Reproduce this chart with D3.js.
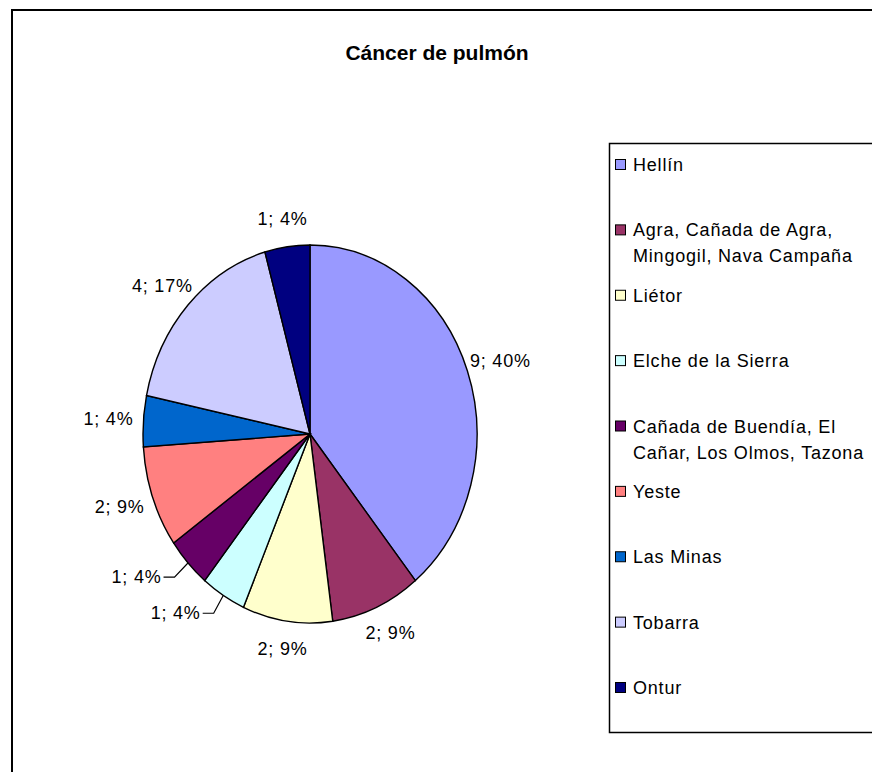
<!DOCTYPE html>
<html lang="es">
<head>
    <meta charset="UTF-8">
    <title>Cáncer de pulmón</title>
    <style>
        body { margin: 0; background: #fff; }
        svg text { font-family: "Liberation Sans", Arial, sans-serif; fill: #000; }
        .lbl { font-size: 18px; letter-spacing: 0.8px; }
    </style>
    <script src="https://cdnjs.cloudflare.com/ajax/libs/d3/7.8.5/d3.min.js"></script>
</head>
<body>
    <div id="chart"></div>

    <script>
        // Data
        const title = "Cáncer de pulmón";
        const categories = ["Hellín", "Agra, Cañada de Agra, Mingogil, Nava Campaña", "Liétor",
            "Elche de la Sierra", "Cañada de Buendía, El Cañar, Los Olmos, Tazona", "Yeste",
            "Las Minas", "Tobarra", "Ontur"];
        const values = [9, 2, 2, 1, 1, 2, 1, 4, 1];
        const percents = [40, 9, 9, 4, 4, 9, 4, 17, 4];
        // legend text as it wraps in the legend box
        const legendLines = [["Hellín"], ["Agra, Cañada de Agra,", "Mingogil, Nava Campaña"], ["Liétor"],
            ["Elche de la Sierra"], ["Cañada de Buendía, El", "Cañar, Los Olmos, Tazona"], ["Yeste"],
            ["Las Minas"], ["Tobarra"], ["Ontur"]];

        // Excel 2003 style palette
        const colors = ["#9999FF", "#993366", "#FFFFCC", "#CCFFFF", "#660066", "#FF8080", "#0066CC", "#CCCCFF", "#000080"];
        const leaderLabels = new Set(["Elche de la Sierra", "Cañada de Buendía, El Cañar, Los Olmos, Tazona"]);

        const W = 872, H = 772;
        const cx = 310, cy = 434, rx = 167, ry = 189;

        const svg = d3.select("#chart").append("svg")
            .attr("width", W)
            .attr("height", H);

        // chart area frame (runs off the right/bottom edge)
        svg.append("rect")
            .attr("x", 12).attr("y", 10)
            .attr("width", W + 20).attr("height", H + 20)
            .attr("fill", "#fff")
            .attr("stroke", "#000")
            .attr("stroke-width", 2);

        svg.append("text")
            .attr("x", 437).attr("y", 60)
            .attr("text-anchor", "middle")
            .style("font-size", "21px")
            .style("font-weight", "bold")
            .text(title);

        const color = d3.scaleOrdinal().domain(categories).range(colors);

        const pie = d3.pie().sort(null).value(d => d.value);
        const data = categories.map((c, i) => ({ name: c, value: values[i], pct: percents[i] }));
        const arcs = pie(data);

        const arc = d3.arc().innerRadius(0).outerRadius(rx);

        // pie is drawn squashed vertically into an ellipse
        const g = svg.append("g")
            .attr("transform", `translate(${cx},${cy}) scale(1,${ry / rx})`);

        g.selectAll("path")
            .data(arcs)
            .enter()
            .append("path")
            .attr("d", arc)
            .attr("fill", d => color(d.data.name))
            .attr("stroke", "#000")
            .attr("stroke-width", 1.4)
            .attr("vector-effect", "non-scaling-stroke");

        // point on the ellipse at angle a, scaled by k, plus extra offsets
        const pt = (a, k, dx = 0, dy = 0) => [
            cx + (rx * k + dx) * Math.sin(a),
            cy - (ry * k + dy) * Math.cos(a)
        ];

        const labels = svg.append("g");
        arcs.forEach(d => {
            const a = (d.startAngle + d.endAngle) / 2;
            const txt = `${d.data.value}; ${d.data.pct}%`;
            if (leaderLabels.has(d.data.name)) {
                const p0 = pt(a, 1);
                const p1 = pt(a, 1.11);
                const p2 = [p1[0] - 11, p1[1]];
                labels.append("path")
                    .attr("d", d3.line()([p0, p1, p2]))
                    .attr("fill", "none")
                    .attr("stroke", "#000")
                    .attr("stroke-width", 1.2);
                labels.append("text")
                    .attr("class", "lbl")
                    .attr("x", p2[0] - 2).attr("y", p2[1])
                    .attr("text-anchor", "end")
                    .attr("dominant-baseline", "central")
                    .text(txt);
            } else {
                const p = pt(a, 1, 35, 28);
                labels.append("text")
                    .attr("class", "lbl")
                    .attr("x", p[0]).attr("y", p[1])
                    .attr("text-anchor", "middle")
                    .attr("dominant-baseline", "central")
                    .text(txt);
            }
        });

        // legend
        const legend = svg.append("g");
        legend.append("rect")
            .attr("x", 609.5).attr("y", 143.5)
            .attr("width", 300).attr("height", 589)
            .attr("fill", "#fff")
            .attr("stroke", "#000")
            .attr("stroke-width", 1.5);

        const ly = d3.scalePoint().domain(categories).range([165, 688]);

        const item = legend.selectAll(".item")
            .data(categories)
            .enter()
            .append("g")
            .attr("class", "item")
            .attr("transform", d => `translate(615,${ly(d)})`);

        item.append("rect")
            .attr("x", 0.5).attr("y", -5.5)
            .attr("width", 10).attr("height", 10)
            .attr("fill", d => color(d))
            .attr("stroke", "#000")
            .attr("stroke-width", 1);

        item.append("text")
            .attr("class", "lbl")
            .attr("x", 18)
            .attr("dominant-baseline", "central")
            .selectAll("tspan")
            .data((d, i) => legendLines[i])
            .enter()
            .append("tspan")
            .attr("x", 18)
            .attr("y", (d, j) => j * 26)
            .text(d => d);
    </script>
</body>
</html>
